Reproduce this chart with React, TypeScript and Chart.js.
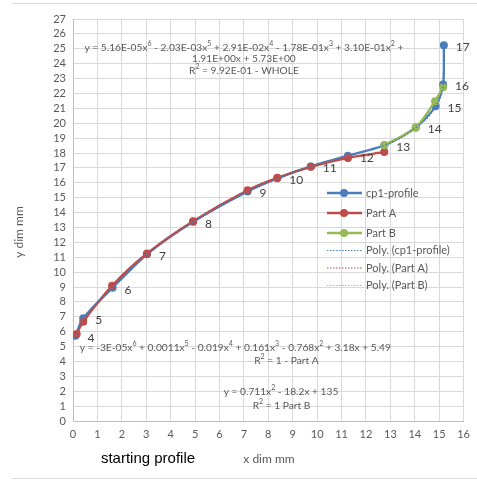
import React, { useEffect, useRef } from "react";
import { Chart, registerables } from "chart.js";
Chart.register(...registerables);

// ---------- data ----------
const pointLabels = ["4", "5", "6", "7", "8", "9", "10", "11", "12", "13", "14", "15", "16", "17"];
const cp1X = [0.1, 0.42, 1.62, 3.03, 4.92, 7.15, 8.37, 9.74, 11.26, 12.75, 14.04, 14.85, 15.16, 15.19];
const cp1Y = [5.72, 6.9, 8.95, 11.2, 13.38, 15.42, 16.3, 17.1, 17.82, 18.52, 19.71, 21.14, 22.6, 25.23];
const partAX = [0.15, 0.42, 1.6, 3.03, 4.92, 7.15, 8.37, 9.74, 11.26, 12.75];
const partAY = [5.85, 6.67, 9.08, 11.25, 13.42, 15.5, 16.33, 17.07, 17.67, 18.07];
const partBX = [12.75, 14.04, 14.83, 15.16];
const partBY = [18.52, 19.71, 21.48, 22.42];

const seriesNames = ["cp1-profile", "Part A", "Part B"];
const trendNames = ["Poly. (cp1-profile)", "Poly. (Part A)", "Poly. (Part B)"];

const eqWhole = [
  "y = 5.16E-05x⁶ - 2.03E-03x⁵ + 2.91E-02x⁴ - 1.78E-01x³ + 3.10E-01x² +",
  "1.91E+00x + 5.73E+00",
  "R² = 9.92E-01 - WHOLE",
];
const eqPartA = [
  "y = -3E-05x⁶ + 0.0011x⁵ - 0.019x⁴ + 0.161x³ - 0.768x² + 3.18x + 5.49",
  "R² = 1 - Part A",
];
const eqPartB = ["y = 0.711x² - 18.2x + 135", "R² = 1 Part B"];

const xTitle = "x dim mm";
const yTitle = "y dim mm";
const noteText = "starting profile";

const BLUE = "#4a7ebb";
const RED = "#be4b48";
const GREEN = "#98b954";
const GREEN_T = "#b5c84a";
const GRAY_TXT = "#595959";
const FONT = "Lato, 'DejaVu Sans', sans-serif";

const SUP: Record<string, string> = { "²": "2", "³": "3", "⁴": "4", "⁵": "5", "⁶": "6" };

const toPts = (xs: number[], ys: number[]) => xs.map((x, i) => ({ x, y: ys[i] }));

export default function App() {
  const ref = useRef<HTMLCanvasElement | null>(null);

  useEffect(() => {
    document.body.style.margin = "0";
    const canvas = ref.current!;
    const colors = [BLUE, RED, GREEN];
    const trendColors = [BLUE, RED, GREEN_T];

    const overlay = {
      id: "overlay",
      afterDatasetsDraw(chart: any) {
        const ctx = chart.ctx;
        const xs = chart.scales.x;
        const ys = chart.scales.y;
        ctx.save();
        // point labels on cp1 series
        const meta = chart.getDatasetMeta(0);
        ctx.font = `12px ${FONT}`;
        ctx.fillStyle = "#404040";
        ctx.textAlign = "left";
        ctx.textBaseline = "middle";
        meta.data.forEach((el: any, i: number) => {
          ctx.fillText(pointLabels[i], el.x + 12, el.y + 2);
        });

        // equations with raised exponents
        const normalFont = `10.2px ${FONT}`;
        const supFont = `7px ${FONT}`;
        ctx.fillStyle = GRAY_TXT;
        ctx.textAlign = "left";
        const segs = (t: string) => {
          const out: { s: string; sup: boolean }[] = [];
          for (const ch of t) {
            const sup = ch in SUP;
            const c = sup ? SUP[ch] : ch;
            const last = out[out.length - 1];
            if (last && last.sup === sup) last.s += c;
            else out.push({ s: c, sup });
          }
          return out;
        };
        const put = (t: string, dx: number, dy: number) => {
          const parts = segs(t);
          let w = 0;
          for (const p of parts) {
            ctx.font = p.sup ? supFont : normalFont;
            w += ctx.measureText(p.s).width;
          }
          let x = xs.getPixelForValue(dx) - w / 2;
          const y = ys.getPixelForValue(dy);
          for (const p of parts) {
            ctx.font = p.sup ? supFont : normalFont;
            ctx.fillText(p.s, x, p.sup ? y - 3.5 : y);
            x += ctx.measureText(p.s).width;
          }
        };
        put(eqWhole[0], 7.0, 25.1);
        put(eqWhole[1], 7.0, 24.35);
        put(eqWhole[2], 7.0, 23.55);
        put(eqPartA[0], 6.65, 4.95);
        put(eqPartA[1], 8.74, 4.05);
        put(eqPartB[0], 8.52, 2.0);
        put(eqPartB[1], 8.54, 1.05);

        // legend
        const lx = 327;
        let ly = 193;
        ctx.textAlign = "left";
        ctx.font = `11px ${FONT}`;
        for (let i = 0; i < 3; i++) {
          ctx.strokeStyle = colors[i];
          ctx.lineWidth = 2.5;
          ctx.setLineDash([]);
          ctx.beginPath();
          ctx.moveTo(lx, ly);
          ctx.lineTo(lx + 35, ly);
          ctx.stroke();
          ctx.fillStyle = colors[i];
          ctx.beginPath();
          ctx.arc(lx + 17, ly, 4, 0, Math.PI * 2);
          ctx.fill();
          ctx.fillStyle = GRAY_TXT;
          ctx.fillText(seriesNames[i], lx + 39, ly);
          ly += i === 2 ? 17.5 : 20;
        }
        for (let i = 0; i < 3; i++) {
          ctx.strokeStyle = trendColors[i];
          ctx.lineWidth = 1.2;
          ctx.setLineDash([1.5, 1.5]);
          ctx.beginPath();
          ctx.moveTo(lx, ly);
          ctx.lineTo(lx + 35, ly);
          ctx.stroke();
          ctx.setLineDash([]);
          ctx.fillStyle = GRAY_TXT;
          ctx.fillText(trendNames[i], lx + 39, ly);
          ly += 17.5;
        }

        // axis titles and note
        ctx.fillStyle = GRAY_TXT;
        ctx.font = `12px ${FONT}`;
        ctx.textAlign = "center";
        ctx.fillText(xTitle, 269, 459);
        ctx.save();
        ctx.translate(19, 232);
        ctx.rotate(-Math.PI / 2);
        ctx.fillText(yTitle, 0, 0);
        ctx.restore();
        ctx.fillStyle = "#000000";
        ctx.font = "15px 'Liberation Sans', Arial, sans-serif";
        ctx.fillText(noteText, 148, 459);

        // outer frame lines
        ctx.strokeStyle = "#d9d9d9";
        ctx.lineWidth = 1;
        ctx.beginPath();
        ctx.moveTo(12, 3.5);
        ctx.lineTo(477, 3.5);
        ctx.moveTo(12, 478.5);
        ctx.lineTo(477, 478.5);
        ctx.stroke();
        ctx.restore();
      },
    };

    const chart = new Chart(canvas, {
      type: "scatter",
      data: {
        datasets: [
          {
            label: seriesNames[0],
            data: toPts(cp1X, cp1Y),
            showLine: true,
            borderColor: BLUE,
            backgroundColor: BLUE,
            borderWidth: 2.3,
            pointRadius: 4,
            pointBorderWidth: 0,
            tension: 0.25,
            order: 3,
          },
          {
            label: seriesNames[1],
            data: toPts(partAX, partAY),
            showLine: true,
            borderColor: RED,
            backgroundColor: RED,
            borderWidth: 2.3,
            pointRadius: 4,
            pointBorderWidth: 0,
            tension: 0.25,
            order: 2,
          },
          {
            label: seriesNames[2],
            data: toPts(partBX, partBY),
            showLine: true,
            borderColor: GREEN,
            backgroundColor: GREEN,
            borderWidth: 2.3,
            pointRadius: 4,
            pointBorderWidth: 0,
            tension: 0.25,
            order: 1,
          },
          {
            label: trendNames[0],
            data: toPts(cp1X, cp1Y),
            showLine: true,
            borderColor: BLUE,
            borderWidth: 1.5,
            borderDash: [1.5, 2],
            pointRadius: 0,
            tension: 0.5,
            order: 0,
          },
          {
            label: trendNames[1],
            data: toPts(partAX, partAY),
            showLine: true,
            borderColor: RED,
            borderWidth: 1.2,
            borderDash: [1.5, 2],
            pointRadius: 0,
            tension: 0.5,
            order: 5,
          },
          {
            label: trendNames[2],
            data: toPts(partBX, partBY),
            showLine: true,
            borderColor: GREEN_T,
            borderWidth: 1.2,
            borderDash: [1.5, 2],
            pointRadius: 0,
            tension: 0.5,
            order: 6,
          },
        ],
      },
      options: {
        responsive: false,
        animation: false,
        layout: { padding: { left: 0, right: 10, top: 19, bottom: 0 } },
        plugins: { legend: { display: false }, tooltip: { enabled: false } },
        scales: {
          x: {
            type: "linear",
            min: 0,
            max: 16,
            ticks: { stepSize: 1, autoSkip: false, color: GRAY_TXT, font: { family: FONT, size: 11 }, padding: 7 },
            grid: { color: "#d9d9d9", drawTicks: false },
            border: { color: "#bfbfbf" },
            afterFit: (s: any) => {
              s.height = 61;
            },
          },
          y: {
            type: "linear",
            min: 0,
            max: 27,
            ticks: { stepSize: 1, autoSkip: false, color: GRAY_TXT, font: { family: FONT, size: 11 }, padding: 7 },
            grid: { color: "#d9d9d9", drawTicks: false },
            border: { color: "#bfbfbf" },
            afterFit: (s: any) => {
              s.width = 73;
            },
          },
        },
      },
      plugins: [overlay],
    });
    return () => chart.destroy();
  }, []);

  return (
    <div style={{ position: "absolute", left: 0, top: 0, width: 477, height: 482, background: "#fff" }}>
      <canvas ref={ref} width={477} height={482} />
    </div>
  );
}
